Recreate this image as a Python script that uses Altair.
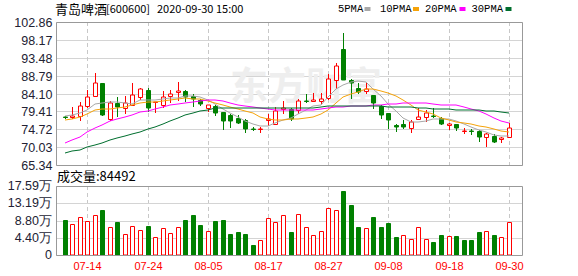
import altair as alt
import numpy as np
import pandas as pd

# ---------------- data ----------------
dates = ["07-09", "07-10", "07-13", "07-14", "07-15", "07-16", "07-17", "07-20", "07-21", "07-22",
         "07-23", "07-24", "07-27", "07-28", "07-29", "07-30", "07-31", "08-03", "08-04", "08-05",
         "08-06", "08-07", "08-10", "08-11", "08-12", "08-13", "08-14", "08-17", "08-18", "08-19",
         "08-20", "08-21", "08-24", "08-25", "08-26", "08-27", "08-28", "08-31", "09-01", "09-02",
         "09-03", "09-04", "09-07", "09-08", "09-09", "09-10", "09-11", "09-14", "09-15", "09-16",
         "09-17", "09-18", "09-21", "09-22", "09-23", "09-24", "09-25", "09-28", "09-29", "09-30"]

open_ = [77.90, 77.92, 78.10, 80.90, 83.35, 86.85, 77.31, 81.60, 80.20, 80.99,
         83.26, 84.92, 81.77, 80.99, 83.52, 84.40, 84.84, 83.35, 82.30, 80.20,
         80.81, 79.24, 78.45, 77.57, 77.05, 74.80, 74.75, 77.05, 76.17, 79.93,
         79.93, 79.76, 82.15, 82.20, 82.21, 82.91, 87.55, 95.77, 87.63, 85.54,
         84.66, 83.70, 80.72, 78.97, 75.82, 75.99, 74.95, 77.40, 78.01, 78.30,
         77.75, 75.91, 75.99, 74.30, 74.35, 74.16, 72.59, 72.93, 72.20, 72.59]
high = [78.27, 80.46, 81.86, 85.01, 89.56, 86.85, 82.12, 83.08, 83.43, 86.76,
        85.54, 85.54, 81.86, 84.75, 84.92, 87.11, 85.10, 83.87, 82.73, 81.16,
        80.99, 79.30, 78.62, 78.53, 77.40, 75.39, 75.39, 78.80, 80.46, 82.12,
        80.20, 82.56, 83.96, 84.20, 84.14, 89.30, 92.19, 100.06, 87.90, 86.76,
        86.85, 83.70, 81.07, 79.00, 75.99, 77.22, 77.05, 80.37, 79.67, 80.29,
        77.92, 76.26, 75.99, 74.95, 74.86, 74.51, 73.64, 73.55, 72.76, 76.35]
low = [77.30, 77.30, 76.96, 80.20, 83.26, 78.27, 76.87, 77.92, 78.80, 80.81,
       82.38, 79.24, 78.90, 80.37, 81.51, 82.21, 81.95, 80.46, 80.81, 79.32,
       78.27, 74.60, 75.04, 76.17, 73.81, 74.16, 73.81, 75.56, 75.99, 78.62,
       76.96, 78.71, 81.60, 81.77, 81.42, 82.47, 85.19, 87.55, 82.73, 83.96,
       83.96, 79.93, 77.49, 74.68, 73.90, 74.77, 73.81, 77.05, 76.61, 77.75,
       75.73, 74.42, 74.33, 73.55, 73.29, 71.36, 70.13, 71.19, 71.19, 72.32]
close = [77.84, 78.27, 80.72, 83.08, 86.85, 78.45, 81.51, 80.46, 81.68, 83.61,
         85.19, 80.29, 81.80, 83.17, 84.05, 84.75, 83.08, 82.56, 81.34, 80.99,
         79.06, 76.96, 76.96, 76.44, 74.86, 74.75, 74.80, 77.31, 79.50, 80.37,
         77.40, 82.12, 82.10, 82.40, 82.65, 87.81, 91.31, 87.72, 86.76, 84.49,
         85.36, 81.60, 78.53, 77.13, 75.21, 75.30, 76.61, 77.92, 78.97, 78.20,
         75.99, 76.17, 75.03, 74.35, 74.25, 72.59, 73.37, 71.45, 72.30, 74.95]

volume = [90000, 79000, 97000, 86700, 102000, 115500, 71400, 85000, 53500, 74000,
          63700, 74800, 45900, 68800, 56000, 71400, 90000, 102000, 77300, 61200,
          87500, 90000, 54400, 59500, 54400, 26300, 39000, 94300, 85000, 102000,
          59500, 104500, 71400, 51000, 61200, 120000, 114700, 164000, 128300, 72200,
          68800, 97700, 72200, 82400, 46700, 51000, 41600, 71400, 41600, 34000,
          51800, 49300, 49300, 37400, 39000, 59500, 62000, 51800, 46700, 84492]
volume_dir = ["down", "up", "up", "up", "up", "down", "up", "down", "up", "up",
              "up", "down", "up", "up", "up", "up", "down", "down", "down", "up",
              "down", "down", "down", "down", "down", "down", "up", "up", "up", "up",
              "down", "up", "up", "up", "up", "up", "up", "down", "down", "down",
              "up", "down", "down", "down", "down", "up", "up", "up", "up", "down",
              "down", "up", "down", "down", "down", "down", "up", "down", "up", "up"]

ma5 = [78.3, 78.5, 78.9, 79.9, 81.3, 81.5, 82.0, 81.9, 81.7, 81.3,
       82.3, 82.3, 82.4, 82.7, 82.8, 82.9, 83.4, 83.5, 83.1, 82.4,
       81.4, 80.1, 79.0, 78.0, 76.9, 76.0, 75.6, 75.7, 76.3, 77.2,
       77.8, 78.6, 79.8, 80.7, 81.2, 83.2, 85.2, 86.4, 87.2, 87.5,
       87.1, 85.4, 83.5, 81.4, 79.6, 77.6, 76.6, 76.5, 76.9, 77.4,
       77.5, 77.4, 76.9, 76.0, 75.2, 74.5, 73.9, 73.3, 72.9, 72.9]
ma10 = [77.1, 77.5, 78.0, 78.7, 79.8, 80.0, 80.0, 80.2, 80.5, 81.1,
        81.7, 81.9, 81.9, 82.1, 82.4, 82.6, 82.8, 82.7, 82.6, 82.2,
        81.5, 81.0, 80.5, 80.0, 79.6, 78.9, 78.0, 77.3, 77.1, 77.1,
        77.3, 77.3, 77.7, 78.0, 78.7, 79.8, 81.5, 83.3, 84.0, 84.5,
        85.2, 85.2, 84.8, 84.3, 83.4, 82.4, 81.0, 79.9, 79.2, 78.6,
        77.7, 77.1, 76.6, 76.3, 76.1, 75.6, 75.2, 74.7, 74.2, 74.0]
ma20 = [71.2, 72.0, 72.8, 73.9, 75.0, 75.8, 77.0, 77.5, 78.0, 78.5,
        79.3, 79.6, 80.0, 80.6, 81.0, 81.4, 81.7, 81.9, 82.1, 82.3,
        82.4, 82.2, 81.6, 81.2, 80.8, 80.5, 80.2, 80.0, 79.9, 79.9,
        79.9, 79.9, 79.9, 79.9, 80.0, 80.3, 80.5, 80.6, 80.7, 80.8,
        80.8, 81.0, 81.1, 81.3, 81.4, 81.6, 81.6, 81.6, 81.5, 81.3,
        81.2, 81.2, 81.1, 80.6, 80.0, 79.4, 78.6, 77.7, 77.0, 76.3]
ma30 = [68.4, 69.0, 69.4, 70.0, 70.6, 71.2, 71.9, 72.4, 72.9, 73.4,
        74.0, 74.8, 75.4, 76.1, 76.9, 77.8, 78.5, 79.0, 79.5, 79.9,
        80.2, 80.3, 80.3, 80.3, 80.3, 80.2, 80.2, 80.2, 80.2, 80.3,
        80.3, 80.4, 80.4, 80.4, 80.5, 80.7, 80.8, 80.9, 80.9, 80.8,
        80.8, 80.7, 80.7, 80.6, 80.6, 80.5, 80.5, 80.4, 80.2, 80.1,
        80.1, 80.0, 79.9, 79.9, 79.8, 79.7, 79.6, 79.5, 79.2, 79.0]

ma_names = ["5PMA", "10PMA", "20PMA", "30PMA"]
ma_colors = ["#a8a8a8", "#f5a30a", "#ff00ff", "#006e2e"]

price_ticks = [102.86, 98.17, 93.48, 88.79, 84.10, 79.41, 74.72, 70.03, 65.34]
vol_ticks = [0, 43975, 87950, 131925, 175900]
vol_tick_labels = ["0", "4.40万", "8.80万", "13.19万", "17.59万"]
x_label_dates = ["07-14", "07-24", "08-05", "08-17", "08-27", "09-08", "09-18", "09-30"]

title_name = "青岛啤酒"
title_code = "[600600]"
title_time = "2020-09-30 15:00"
vol_title = "成交量:" + str(volume[-1])
watermark = "东方财富"

# ---------------- layout ----------------
W = 466          # plot width
PH = 143         # price panel height
VT, VB = 164, 233  # volume panel top / bottom (px from plot top)
UP, DOWN, WHITE = "#ff0000", "#008000", "#ffffff"
FRAME = "#999999"
GRID = "#d4d4d4"
AX_TXT = "#222233"

df = pd.DataFrame({
    "i": range(len(dates)), "date": dates, "open": open_, "high": high,
    "low": low, "close": close, "vol": volume, "vdir": volume_dir,
})
df["cdir"] = np.where(df["close"] >= df["open"], "up", "down")

ma_df = pd.concat([
    pd.DataFrame({"i": range(len(dates)), "ma": name, "value": vals})
    for name, vals in zip(ma_names, [ma5, ma10, ma20, ma30])
])

x_idx = [dates.index(d) for d in x_label_dates]
label_expr = ("[" + ",".join(f"'{d}'" for d in x_label_dates) + "][indexof(["
              + ",".join(str(i) for i in x_idx) + "], datum.value)]")

xscale = alt.Scale(domain=[-0.5, 60.1], nice=False, zero=False, round=True)
x_axis = alt.Axis(values=x_idx, labelExpr=label_expr, grid=False, ticks=False,
                  domain=False, labelColor="#ff0000", labelFont="Liberation Sans",
                  labelFontSize=11, labelPadding=5, title=None, labelFlush=False,
                  labelOverlap=False)


def X(field="i"):
    return alt.X(f"{field}:Q", scale=xscale, axis=x_axis)


pscale = alt.Scale(domain=[price_ticks[-1], price_ticks[0]], range=[PH, 0],
                   nice=False, zero=False, round=True)
p_axis = alt.Axis(values=price_ticks, format=".2f", grid=True, gridColor=GRID,
                  domain=False, ticks=False, labelPadding=4, labelFont="Liberation Sans",
                  labelFontSize=12.5, labelColor=AX_TXT, title=None, labelFlush=False,
                  labelOverlap=False)
vscale = alt.Scale(domain=[0, vol_ticks[-1]], range=[VB, VT], nice=False, zero=True, round=True)

stroke_scale = alt.Scale(domain=["up", "down"], range=[UP, DOWN])
fill_scale = alt.Scale(domain=["up", "down"], range=[WHITE, DOWN])

one = pd.DataFrame({"a": [0]})
lab_df = pd.DataFrame({"i": x_idx})

# ---------------- price panel ----------------
wm = alt.Chart(one).mark_text(font="Noto Sans CJK SC", fontSize=38, fontWeight="bold",
                              color="#eeeeee", align="left", baseline="middle").encode(
    x=alt.value(174), y=alt.value(66), text=alt.value(watermark))

vdash_p = alt.Chart(lab_df).mark_rule(strokeDash=[4, 3], color="#c8c8c8", xOffset=0.5).encode(
    x=X(), y=alt.value(0), y2=alt.value(PH))

wick = alt.Chart(df).mark_rule(strokeWidth=1, xOffset=0.5).encode(
    x=X(), y=alt.Y("low:Q", scale=pscale, axis=p_axis), y2="high:Q",
    stroke=alt.Stroke("cdir:N", scale=stroke_scale, legend=None))

body = alt.Chart(df).mark_bar(width=4, strokeWidth=1, xOffset=0.5, yOffset=0.5).encode(
    x=X(), y=alt.Y("open:Q", scale=pscale, axis=p_axis), y2="close:Q",
    stroke=alt.Stroke("cdir:N", scale=stroke_scale, legend=None),
    fill=alt.Fill("cdir:N", scale=fill_scale, legend=None))

ma_lines = alt.Chart(ma_df).mark_line(strokeWidth=1).encode(
    x=X(), y=alt.Y("value:Q", scale=pscale, axis=p_axis),
    color=alt.Color("ma:N", scale=alt.Scale(domain=ma_names, range=ma_colors), legend=None),
    detail="ma:N", order="i:Q")

frame_p = alt.Chart(one).mark_rect(fill="transparent", stroke=FRAME, strokeWidth=1).encode(
    x=alt.value(0.5), x2=alt.value(W + 0.5), y=alt.value(0.5), y2=alt.value(PH + 0.5))


def txt(s, x, y, font, size, color="#000000", align="left"):
    return alt.Chart(one).mark_text(font=font, fontSize=size, color=color, align=align,
                                    baseline="middle").encode(
        x=alt.value(x), y=alt.value(y), text=alt.value(s))


title_layers = [
    txt(title_name, -1, -12.5, "Noto Sans CJK SC", 13),
    txt(title_code, 50, -12.5, "Noto Sans CJK SC", 11),
    txt(title_time, 101, -12.5, "Noto Sans CJK SC", 11),
]

legend_text_x = [282, 324, 369, 415.5]
legend_mark_x = [308.5, 357, 403.5, 449.5]
legend_layers = []
for name, col, tx, mx in zip(ma_names, ma_colors, legend_text_x, legend_mark_x):
    legend_layers.append(txt(name, tx, -13, "Liberation Mono", 10.5))
    legend_layers.append(alt.Chart(one).mark_rect(color=col).encode(
        x=alt.value(mx), x2=alt.value(mx + 6), y=alt.value(-15), y2=alt.value(-11)))

price_layer = alt.layer(wm, vdash_p, wick, body, ma_lines, frame_p,
                        *title_layers, *legend_layers)

# ---------------- volume panel ----------------
vt_df = pd.DataFrame({"v": vol_ticks, "label": vol_tick_labels})

vdash_v = alt.Chart(lab_df).mark_rule(strokeDash=[4, 3], color="#c8c8c8", xOffset=0.5).encode(
    x=X(), y=alt.value(VT), y2=alt.value(VB))

vgrid = alt.Chart(vt_df).mark_rule(color=GRID, yOffset=0.5).encode(
    y=alt.Y("v:Q", scale=vscale, axis=None), x=alt.value(0), x2=alt.value(W))

vlabels = alt.Chart(vt_df).mark_text(align="right", baseline="middle", font="Liberation Sans",
                                     fontSize=12.5, color=AX_TXT).encode(
    x=alt.value(-4), y=alt.Y("v:Q", scale=vscale, axis=None), text="label:N")

vbars = alt.Chart(df).mark_bar(width=4, strokeWidth=1, xOffset=0.5, yOffset=0.5).encode(
    x=X(), y=alt.Y("vol:Q", scale=vscale, axis=None, stack=None),
    stroke=alt.Stroke("vdir:N", scale=stroke_scale, legend=None),
    fill=alt.Fill("vdir:N", scale=fill_scale, legend=None))

frame_v = alt.Chart(one).mark_rect(fill="transparent", stroke=FRAME, strokeWidth=1).encode(
    x=alt.value(0.5), x2=alt.value(W + 0.5), y=alt.value(VT + 0.5), y2=alt.value(VB + 0.5))

vol_text = txt(vol_title, 1, 155, "Noto Sans CJK SC", 13)

vol_layer = alt.layer(vdash_v, vgrid, vbars, frame_v, vlabels, vol_text)

chart = alt.layer(price_layer, vol_layer).resolve_scale(y="independent").properties(
    width=W, height=VB,
    padding={"left": 56, "top": 22, "right": 56, "bottom": 21},
    autosize=alt.AutoSizeParams(type="none"),
).configure_view(strokeWidth=0)

chart.save("out.html", embed_options={"renderer": "svg", "actions": False})
